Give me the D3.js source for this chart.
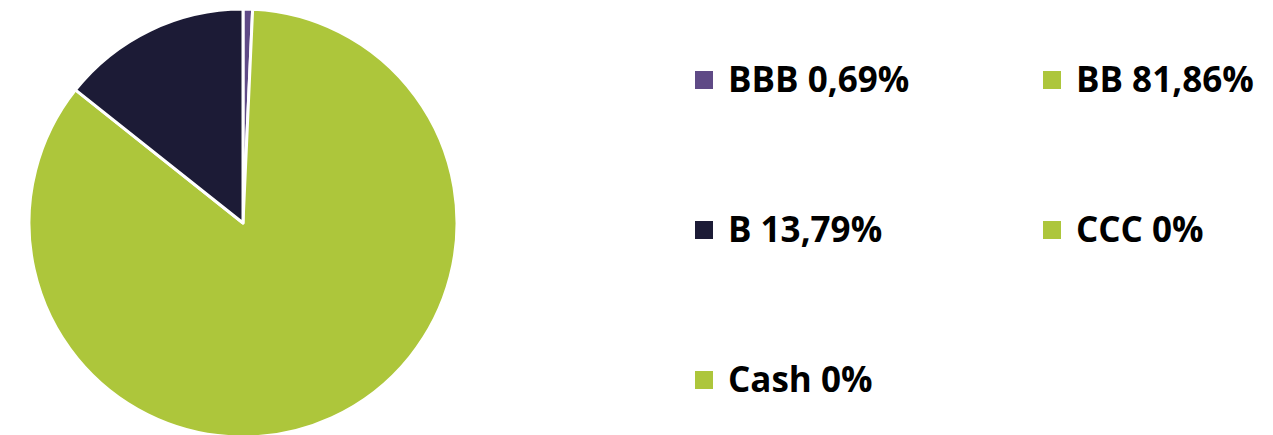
<!DOCTYPE html>
<html>
<head>
<meta charset="utf-8">
<script src="https://cdn.jsdelivr.net/npm/d3@7"></script>
<style>
  body { margin: 0; background: #fff; }
  svg text { font-family: "Open Sans", sans-serif; font-weight: 700; }
</style>
</head>
<body>
<div id="chart"></div>
<script>
// data
var categories = ["BBB", "BB", "B", "CCC", "Cash"];
var values = [0.69, 81.86, 13.79, 0, 0];
var labels = ["BBB 0,69%", "BB 81,86%", "B 13,79%", "CCC 0%", "Cash 0%"];
var colors = ["#5f4a86", "#adc63b", "#1c1b36", "#adc63b", "#adc63b"];

var svgWidth = 1273;
var svgHeight = 435;

var svg = d3.select("#chart")
    .append("svg")
    .attr("width", svgWidth)
    .attr("height", svgHeight);

var data = categories.map(function(c, i) {
    return { name: c, value: values[i], label: labels[i], color: colors[i] };
});

// pie
var radius = 214;
var pieGroup = svg.append("g")
    .attr("transform", "translate(243, 223)");

var pie = d3.pie()
    .sort(null)
    .value(d => d.value);

var arc = d3.arc()
    .innerRadius(0)
    .outerRadius(radius);

pieGroup.selectAll("path")
    .data(pie(data).filter(d => d.data.value > 0))
    .enter()
    .append("path")
    .attr("d", arc)
    .attr("fill", d => d.data.color)
    .attr("stroke", "white")
    .attr("stroke-width", 3)
    .attr("stroke-linejoin", "round");

// legend
var colX = d3.scalePoint().domain([0, 1]).range([695, 1043]);
var rowY = d3.scalePoint().domain([0, 1, 2]).range([80, 380]);

var legend = svg.selectAll(".legend")
    .data(data)
    .enter()
    .append("g")
    .attr("class", "legend")
    .attr("transform", (d, i) => `translate(${colX(i % 2)}, ${rowY(Math.floor(i / 2))})`);

legend.append("rect")
    .attr("x", 0)
    .attr("y", -9)
    .attr("width", 18)
    .attr("height", 18)
    .attr("fill", d => d.color);

legend.append("text")
    .attr("x", 33)
    .attr("y", 12)
    .style("font-size", "35px")
    .style("fill", "#000")
    .text(d => d.label);
</script>
</body>
</html>
